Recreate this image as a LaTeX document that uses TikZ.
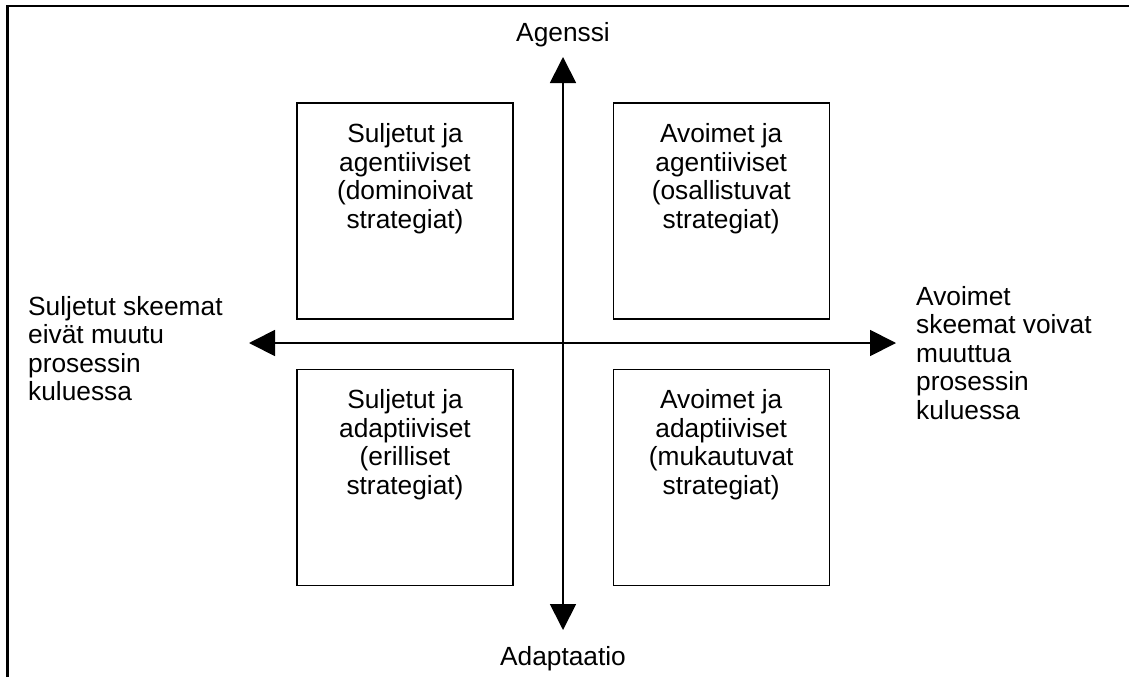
\documentclass[tikz,border=0pt]{standalone}
\usepackage{fontspec}
\setmainfont{Liberation Sans}
\usetikzlibrary{arrows.meta,positioning}
\newcommand{\qfont}{\fontsize{26.3}{28.5}\selectfont}
\tikzset{
  % ---- quadrant blocks ------------------------------------------------
  qbox/.style={
    draw=black, line width=1.2pt, minimum width=216pt, minimum height=216pt,
    inner sep=0pt},
  qtext/.style={font=\qfont, align=center, inner sep=0pt, anchor=north},
  sidetext/.style={font=\qfont, align=left, inner sep=0pt, anchor=north west},
  axislabel/.style={font=\qfont, inner sep=0pt, anchor=base},
  % ---- axes and frame -------------------------------------------------
  qaxis/.style={
    {Triangle[length=26pt,width=26pt]}-{Triangle[length=26pt,width=26pt]},
    draw=black, line width=1.8pt},
  qframe/.style={draw=black, line width=2.4pt},
}

\begin{document}
\begin{tikzpicture}[x=1pt, y=-1pt]
\useasboundingbox (0,0) rectangle (1129,677);

% ---------------- frame ----------------------------------------------
\draw[qframe] (7.5,677) -- (7.5,6) -- (1129,6);

% ---------------- quadrants ------------------------------------------
\node[qbox] (closedagent) at (405,211) {};
\node[qbox, right=99pt of closedagent] (openagent) {};
\node[qbox, below=49pt of closedagent] (closedadapt) {};
\node[qbox, below=49pt of openagent] (openadapt) {};

\node[qtext] at ([yshift=-21pt]closedagent.north)
  {Suljetut ja\\agentiiviset\\(dominoivat\\strategiat)};
\node[qtext] at ([yshift=-21pt]openagent.north)
  {Avoimet ja\\agentiiviset\\(osallistuvat\\strategiat)};
\node[qtext] at ([yshift=-21pt]closedadapt.north)
  {Suljetut ja\\adaptiiviset\\(erilliset\\strategiat)};
\node[qtext] at ([yshift=-21pt]openadapt.north)
  {Avoimet ja\\adaptiiviset\\(mukautuvat\\strategiat)};

% ---------------- axes -----------------------------------------------
\coordinate (agtip) at (563,57);
\coordinate (adtip) at (563,630);
\coordinate (cltip) at (249,343);
\coordinate (optip) at (896,343);

\draw[qaxis] (adtip) -- (agtip);
\draw[qaxis] (cltip) -- (optip);

\node[axislabel] (agenssi) at (563,42) {Agenssi};
\node[axislabel] (adaptaatio) at (563,665) {Adaptaatio};

\node[sidetext] (closedside) at (28,296)
  {Suljetut skeemat\\eivät muutu\\prosessin\\kuluessa};
\node[sidetext] (openside) at (916,286)
  {Avoimet\\skeemat voivat\\muuttua\\prosessin\\kuluessa};

\end{tikzpicture}
\end{document}
